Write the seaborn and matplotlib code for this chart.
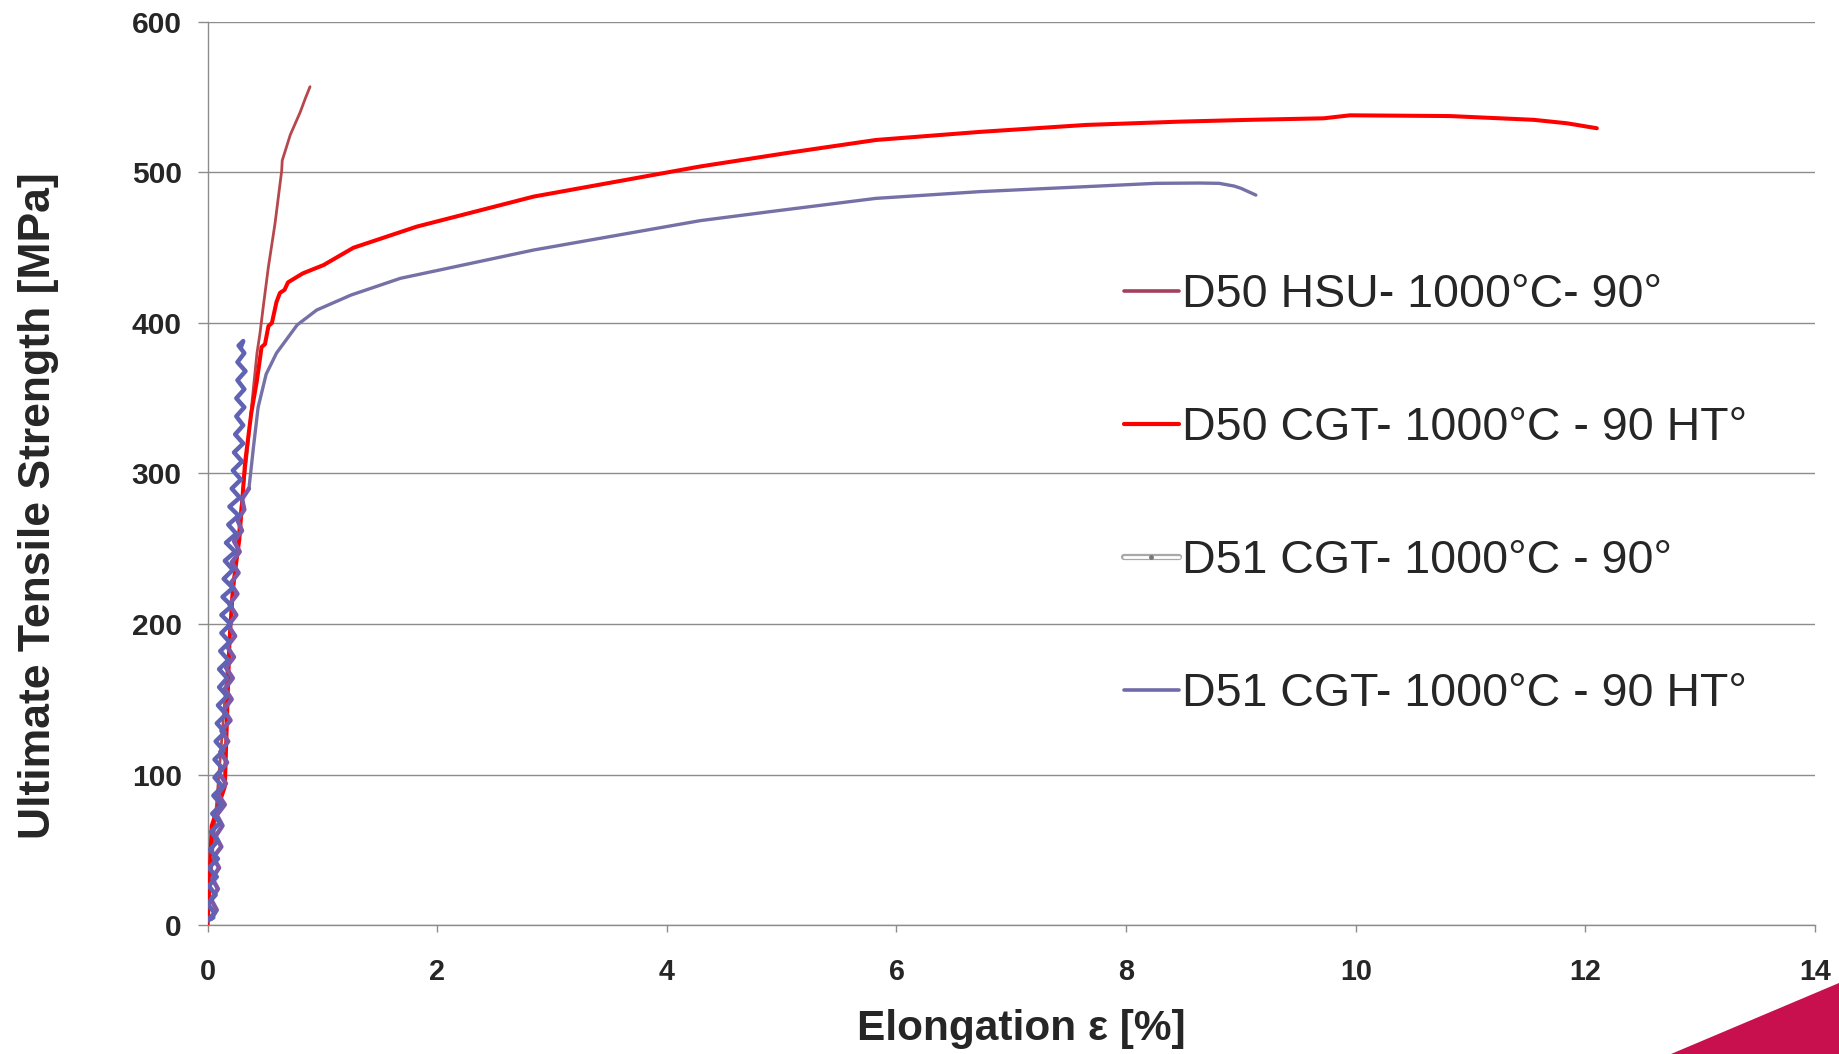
import matplotlib
matplotlib.use("Agg")
import matplotlib.pyplot as plt
from matplotlib import font_manager
from matplotlib.font_manager import FontProperties
from matplotlib.lines import Line2D
from matplotlib.patches import Polygon
import pandas as pd
import seaborn as sns

# ---------------- data ----------------
series_names = [
    "D50 HSU- 1000°C- 90°",
    "D50 CGT- 1000°C - 90 HT°",
    "D51 CGT- 1000°C - 90°",
    "D51 CGT- 1000°C - 90 HT°",
]

hsu_x = [0.00, 0.05, 0.12, 0.20, 0.28, 0.34, 0.39, 0.43, 0.456, 0.485, 0.529,
         0.587, 0.645, 0.65, 0.72, 0.806, 0.85, 0.892]
hsu_y = [0, 55, 120, 200, 270, 310, 350, 380, 393, 411, 437,
         466, 501, 508, 525, 540, 549, 557]

red_x = [0.00, 0.036, 0.15, 0.19, 0.22, 0.276, 0.326, 0.38, 0.43, 0.47, 0.50,
         0.53, 0.56, 0.60, 0.63, 0.67, 0.70, 0.83, 1.01, 1.27, 1.82, 2.84,
         4.29, 5.05, 5.82, 6.73, 7.65, 8.47, 9.08, 9.72, 9.95, 10.82, 11.55,
         11.84, 12.10]
red_y = [0, 66, 92, 188, 224, 256, 307, 340, 362, 384, 386,
         398, 400, 414, 420, 422, 427, 433, 438.5, 450, 464, 484,
         504, 513, 521.6, 527, 531.6, 533.8, 535, 536, 538, 537.5, 535,
         532.7, 529.4]

# noisy early branch (D51 CGT- 1000°C - 90°)
d51_x = [0.05, 0.00, 0.06, 0.00, 0.07, 0.01, 0.08, 0.01, 0.09, 0.02, 0.09, 0.03,
         0.11, 0.04, 0.12, 0.05, 0.13, 0.06, 0.13, 0.06, 0.14, 0.07, 0.15,
         0.08, 0.16, 0.09, 0.17, 0.10, 0.17, 0.10, 0.18, 0.11, 0.19, 0.12,
         0.20, 0.12, 0.21, 0.13, 0.22, 0.14, 0.22, 0.15, 0.24, 0.16, 0.25,
         0.18, 0.27, 0.19, 0.28, 0.21, 0.29, 0.22, 0.30, 0.23, 0.31, 0.24,
         0.31, 0.25, 0.32, 0.25, 0.32, 0.26, 0.33, 0.26, 0.32, 0.27, 0.31,
         0.29]
d51_y = [5, 3, 8, 14, 20, 26, 32, 38, 44, 50, 56, 62,
         68, 74, 80, 86, 92, 98, 104, 110, 116, 122, 128,
         134, 140, 146, 152, 158, 164, 170, 176, 182, 188, 194,
         200, 206, 212, 218, 224, 230, 236, 242, 248, 254, 260,
         266, 272, 278, 284, 290, 296, 302, 308, 314, 320, 326,
         332, 338, 344, 350, 356, 362, 368, 374, 380, 385, 388,
         384]

# D51 CGT- 1000°C - 90 HT° : noisy start, then smooth curve
d51ht_x = [0.03, 0.08, 0.03, 0.09, 0.04, 0.10, 0.05, 0.12, 0.07, 0.13, 0.08,
           0.15, 0.09, 0.16, 0.10, 0.17, 0.11, 0.18, 0.12, 0.20, 0.14, 0.21,
           0.15, 0.22, 0.16, 0.23, 0.17, 0.24, 0.18, 0.25, 0.19, 0.26, 0.20,
           0.27, 0.21, 0.28, 0.23, 0.30, 0.26, 0.32, 0.30, 0.36,
           0.40, 0.44, 0.51, 0.60, 0.78, 0.95, 1.25, 1.68, 2.84, 4.29, 4.90,
           5.82, 6.73, 7.65, 8.26, 8.64, 8.81, 8.94, 9.00, 9.13]
d51ht_y = [4, 10, 17, 24, 31, 38, 45, 52, 59, 66, 73,
           80, 87, 94, 101, 108, 115, 122, 129, 136, 143, 150,
           157, 164, 171, 178, 185, 192, 199, 206, 213, 220, 227,
           234, 241, 248, 255, 262, 269, 276, 283, 290,
           318, 344, 366, 380, 398.7, 408.6, 418.6, 429.7, 448.5, 468, 474,
           482.8, 487.3, 490.6, 492.8, 493, 492.8, 491, 489.5, 485]
HT_NOISY_END = 42  # index where the smooth part of the HT curve starts

x_ticks = [0, 2, 4, 6, 8, 10, 12, 14]
y_ticks = [0, 100, 200, 300, 400, 500, 600]
x_label = "Elongation ε [%]"
y_label = "Ultimate Tensile Strength [MPa]"

# ---------------- style ----------------
sns.set_style("white")
names = {f.name for f in font_manager.fontManager.ttflist}
NARROW = "Liberation Sans Narrow" in names
plt.rcParams["font.family"] = ["Liberation Sans", "DejaVu Sans"]

fig = plt.figure(figsize=(18.39, 10.54), dpi=100)
ax = fig.add_axes([0.11289, 0.12239, 0.87406, 0.85674])

df_hsu = pd.DataFrame({"x": hsu_x, "y": hsu_y})
df_red = pd.DataFrame({"x": red_x, "y": red_y})
df_d51 = pd.DataFrame({"x": d51_x, "y": d51_y})
df_d51ht = pd.DataFrame({"x": d51ht_x, "y": d51ht_y})

sns.lineplot(data=df_hsu, x="x", y="y", sort=False, estimator=None, ax=ax,
             color="#B6474C", linewidth=2.0, zorder=3)
sns.lineplot(data=df_red, x="x", y="y", sort=False, estimator=None, ax=ax,
             color="#FF0000", linewidth=2.9, zorder=4)
sns.lineplot(data=df_d51ht.iloc[:HT_NOISY_END], x="x", y="y", sort=False,
             estimator=None, ax=ax, color="#7D5AA8", linewidth=3.2, zorder=5)
sns.lineplot(data=df_d51, x="x", y="y", sort=False, estimator=None, ax=ax,
             color="#6062B4", linewidth=3.2, zorder=5)
sns.lineplot(data=df_d51ht.iloc[HT_NOISY_END - 1:], x="x", y="y", sort=False,
             estimator=None, ax=ax, color="#7570A6", linewidth=2.4, zorder=4)

ax.set_xlim(0, 14)
ax.set_ylim(0, 600)
ax.set_xticks(x_ticks)
ax.set_yticks(y_ticks)
ax.set_xticklabels([str(v) for v in x_ticks])
ax.set_yticklabels([str(v) for v in y_ticks])

grid_col = "#8C8C8C"
ax.yaxis.grid(True, color=grid_col, linewidth=1.0, zorder=1)
ax.xaxis.grid(False)
ax.set_axisbelow(True)
for s in ["top", "right"]:
    ax.spines[s].set_visible(False)
for s in ["left", "bottom"]:
    ax.spines[s].set_color(grid_col)
    ax.spines[s].set_linewidth(1.0)

ax.tick_params(axis="y", which="major", direction="out", length=7.2, width=1.0,
               color=grid_col, pad=11.5, left=True)
ax.tick_params(axis="x", which="major", direction="out", length=5, width=1.0,
               color=grid_col, pad=19, bottom=True)
for lab in ax.get_yticklabels():
    lab.set_fontfamily("Liberation Sans")
    lab.set_fontweight("bold")
    lab.set_fontsize(21.6)
for lab in ax.get_xticklabels():
    lab.set_fontfamily("Liberation Sans")
    lab.set_fontweight("bold")
    lab.set_fontsize(20.7)

if NARROW:
    xl_font = FontProperties(family="Liberation Sans Narrow", weight="bold", size=36)
    lg_font = FontProperties(family="Liberation Sans Narrow", size=41)
    lg_kw = dict(handlelength=0.97, labelspacing=1.39)
    lg_anchor = (0.570, 0.728)
else:
    xl_font = FontProperties(family="Liberation Sans", weight="bold", size=30.5)
    lg_font = FontProperties(family="Liberation Sans", size=33.5)
    lg_kw = dict(handlelength=1.18, labelspacing=1.91)
    lg_anchor = (0.570, 0.7216)

ax.set_xlabel(x_label, fontproperties=xl_font)
ax.xaxis.set_label_coords(0.506, -0.115)
ax.xaxis.label.set_verticalalignment("center")
ax.set_ylabel(y_label, fontproperties=FontProperties(family="Liberation Sans",
                                                     weight="bold", size=32))
ax.yaxis.set_label_coords(-0.1051, 0.4646)
ax.yaxis.label.set_verticalalignment("center")

handles = [
    Line2D([], [], color="#A4405E", linewidth=2.6),
    Line2D([], [], color="#FF0000", linewidth=3.0),
    (Line2D([], [], color="#A8A8A8", linewidth=4.5),
     Line2D([], [], color="white", linewidth=2.0, marker="o", markersize=2.5,
            markerfacecolor="#777777", markeredgecolor="#777777")),
    Line2D([], [], color="#6F6BA8", linewidth=2.6),
]
leg = ax.legend(handles, series_names, loc="upper left", bbox_to_anchor=lg_anchor,
                frameon=False, prop=lg_font, handletextpad=0.08, borderpad=0,
                borderaxespad=0, **lg_kw)

# decorative slide corner
fig.patches.append(Polygon([(1671 / 1839, 0), (1.0, 71 / 1054), (1.0, 0)],
                           closed=True, transform=fig.transFigure,
                           facecolor="#C8104F", edgecolor="none"))

fig.savefig("out.png", dpi=100)
